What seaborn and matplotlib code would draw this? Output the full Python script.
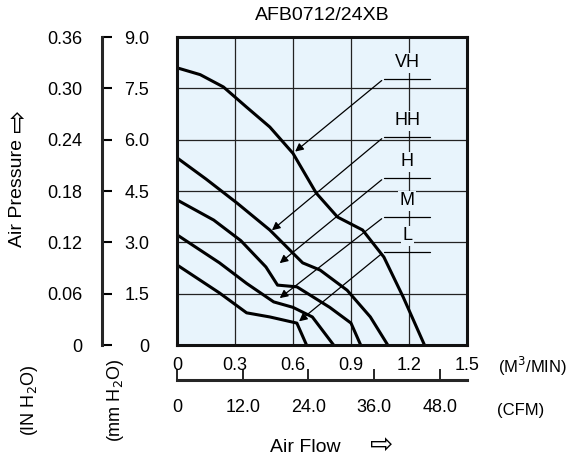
import matplotlib
import matplotlib.pyplot as plt
import seaborn as sns
import pandas as pd

matplotlib.use("Agg")

# curves: air flow (m3/min) vs static pressure (mmH2O)
vh_x = [0.0, 0.12, 0.24, 0.36, 0.48, 0.60, 0.72, 0.83, 0.96, 1.07, 1.17, 1.28]
vh_y = [8.1, 7.9, 7.54, 6.95, 6.37, 5.6, 4.44, 3.74, 3.36, 2.57, 1.4, 0.0]
hh_x = [0.0, 0.15, 0.31, 0.48, 0.65, 0.74, 0.88, 1.00, 1.09]
hh_y = [5.47, 4.85, 4.15, 3.36, 2.4, 2.19, 1.6, 0.82, 0.0]
h_x = [0.0, 0.19, 0.33, 0.46, 0.52, 0.62, 0.79, 0.90, 0.95]
h_y = [4.24, 3.65, 3.05, 2.28, 1.75, 1.7, 1.1, 0.64, 0.0]
m_x = [0.0, 0.22, 0.36, 0.50, 0.60, 0.70, 0.81]
m_y = [3.22, 2.4, 1.8, 1.26, 1.1, 0.82, 0.0]
l_x = [0.0, 0.22, 0.36, 0.48, 0.62, 0.67]
l_y = [2.34, 1.52, 0.94, 0.82, 0.64, 0.0]

labels = ["VH", "HH", "H", "M", "L"]
label_y = [7.78, 6.08, 4.88, 3.74, 2.72]
arrow_tip_x = [0.60, 0.48, 0.52, 0.52, 0.62]
arrow_tip_y = [5.6, 3.3, 2.34, 1.32, 0.64]

m3_ticks = [0, 0.3, 0.6, 0.9, 1.2, 1.5]
cfm_ticks = [0, 12.0, 24.0, 36.0, 48.0]
mm_ticks = [0, 1.5, 3.0, 4.5, 6.0, 7.5, 9.0]
in_ticks = [0, 0.06, 0.12, 0.18, 0.24, 0.30, 0.36]

sns.set_style("white")
plt.rcParams["font.family"] = ["Liberation Sans", "DejaVu Sans"]
plt.rcParams["text.color"] = "black"
plt.rcParams["xtick.color"] = "black"
plt.rcParams["ytick.color"] = "black"
plt.rcParams["xtick.labelcolor"] = "black"
plt.rcParams["ytick.labelcolor"] = "black"

fig = plt.figure(figsize=(5.66, 4.68), dpi=100)
W = 290.0
H = 308.0
ax = fig.add_axes([177 / 566, 1 - 345 / 468, W / 566, H / 468])
bg = "#e8f4fc"
ax.set_facecolor(bg)
ax.set_xlim(0, 1.5)
ax.set_ylim(0, 9)
ax.set_xticks(m3_ticks)
ax.set_yticks(mm_ticks)
ax.grid(True, color="#222222", lw=0.9)
for s in ax.spines.values():
    s.set_linewidth(2.2)
    s.set_color("#111111")
ax.tick_params(axis="both", length=0, labelsize=13)
ax.set_yticklabels(["0", "1.5", "3.0", "4.5", "6.0", "7.5", "9.0"])
ax.set_xticklabels(["0", "0.3", "0.6", "0.9", "1.2", "1.5"])
ax.tick_params(axis="x", pad=9)
ax.tick_params(axis="y", pad=20)

for xs, ys in [(vh_x, vh_y), (hh_x, hh_y), (h_x, h_y), (m_x, m_y), (l_x, l_y)]:
    df = pd.DataFrame({"x": xs, "y": ys})
    sns.lineplot(data=df, x="x", y="y", ax=ax, color="black", lw=2.2, sort=False)
ax.set_xlabel("")
ax.set_ylabel("")

for lab, ly, tx, ty in zip(labels, label_y, arrow_tip_x, arrow_tip_y):
    ax.text(1.19, ly + 0.22, lab, fontsize=13, ha="center", va="bottom",
            bbox=dict(facecolor=bg, edgecolor="none", pad=1))
    ax.plot([1.07, 1.31], [ly, ly], color="black", lw=0.9)
    ax.annotate("", xy=(tx, ty), xytext=(1.07, ly),
                arrowprops=dict(arrowstyle="-|>", color="black", lw=0.9,
                                mutation_scale=12))

# inH2O axis
inch = ax.secondary_yaxis(-75 / W, functions=(lambda v: v * 0.04, lambda v: v / 0.04))
inch.set_yticks(in_ticks)
inch.set_yticklabels(["0", "0.06", "0.12", "0.18", "0.24", "0.30", "0.36"])
inch.spines["left"].set_linewidth(2.2)
inch.tick_params(length=7, width=1.5, labelsize=13, direction="in", pad=14)

# CFM axis
cfm = ax.secondary_xaxis(-35 / H, functions=(lambda v: v * 35.31, lambda v: v / 35.31))
cfm.set_xticks(cfm_ticks)
cfm.set_xticklabels(["0", "12.0", "24.0", "36.0", "48.0"])
cfm.spines["bottom"].set_linewidth(2.2)
cfm.tick_params(length=8, width=1.2, labelsize=13, direction="in", pad=14)

fig.text(498 / 566, 1 - 366 / 468, "(M$^3$/MIN)", fontsize=12, va="center")
fig.text(497 / 566, 1 - 410 / 468, "(CFM)", fontsize=12, va="center")
fig.text(322 / 566, 1 - 15 / 468, "AFB0712/24XB", fontsize=14, ha="center", va="center")
fig.text(305 / 566, 1 - 447 / 468, "Air Flow", fontsize=14, ha="center", va="center")
fig.text(382 / 566, 1 - 445 / 468, "\u21e8", fontsize=20, ha="center", va="center",
         family=["DejaVu Sans"])
fig.text(18 / 566, 1 - 193 / 468, "Air Pressure", fontsize=14, rotation=90,
         ha="center", va="center")
fig.text(18 / 566, 1 - 120 / 468, "\u21e8", fontsize=20, rotation=90,
         ha="center", va="center", family=["DejaVu Sans"])
fig.text(30 / 566, 1 - 400 / 468, "(IN H$_2$O)", fontsize=13, rotation=90, ha="center", va="center")
fig.text(115 / 566, 1 - 400 / 468, "(mm H$_2$O)", fontsize=13, rotation=90, ha="center", va="center")

fig.savefig("out.png", dpi=100)
